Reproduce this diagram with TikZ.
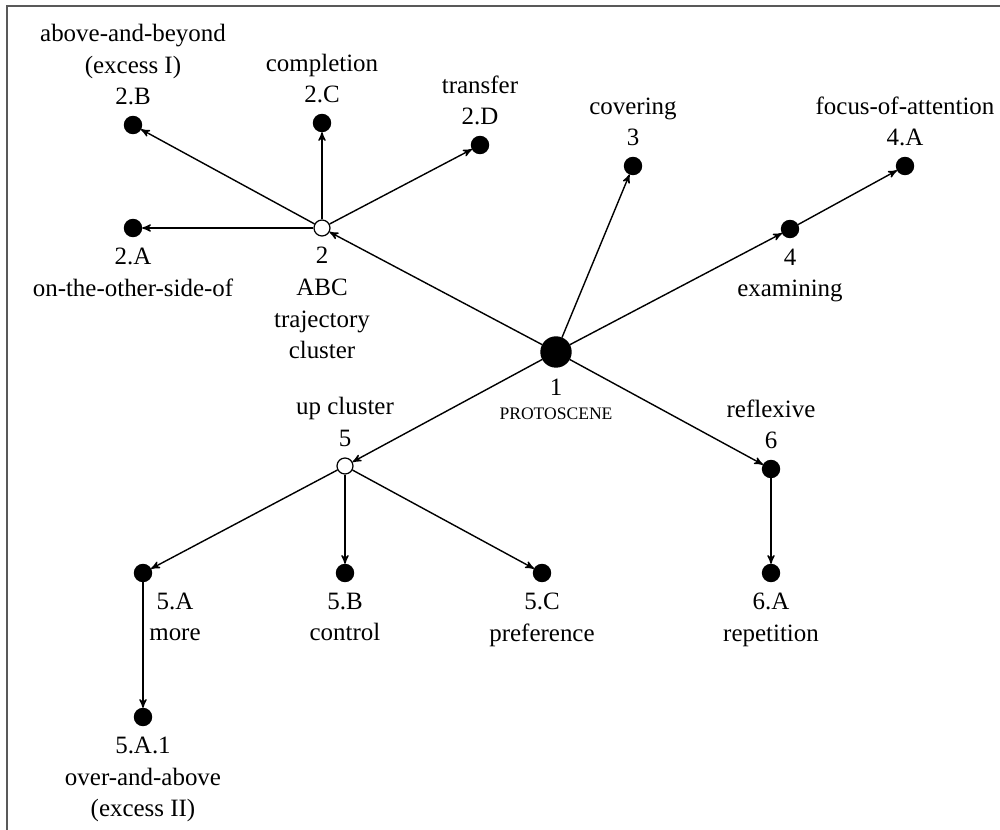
\documentclass[tikz,border=0pt]{standalone}
\usepackage{fontspec}
\setmainfont{Liberation Serif}
\usepackage{tikz}
\usetikzlibrary{arrows,positioning}
\tikzset{
	sensenode/.style = {circle, inner sep=0pt, draw=black},
	sns_n/.style = {sensenode, fill=black, minimum size=0.34cm},% sense, full dot
	sns_o/.style = {sensenode, fill=white, minimum size=0.32cm,
		line width=0.7pt},% cluster, open dot
	sns_p/.style = {sensenode, fill=black, minimum size=0.6cm},% protoscene
	sns_t/.style = {align=center, inner sep=0pt,
		font=\fontsize{14.2}{18}\selectfont}% label text
}
\begin{document}
\begin{tikzpicture}[x=0.02cm, y=-0.02cm, ->, >=stealth', line width=0.8pt]
\useasboundingbox (0,0) rectangle (1000,830);
\draw [-, gray!70!black, line width=1.2pt] (7,830) -- (7,6) -- (1000,6);
% senses
\node [sns_p] (n1) at (556,352) {};
\node [sns_o] (n2) at (322,228) {};
\node [sns_n] (n2A) at (133,228) {};
\node [sns_n] (n2B) at (133,125) {};
\node [sns_n] (n2C) at (322,123) {};
\node [sns_n] (n2D) at (480,145) {};
\node [sns_n] (n3) at (633,166) {};
\node [sns_n] (n4) at (790,229) {};
\node [sns_n] (n4A) at (905,166) {};
\node [sns_o] (n5) at (345,466) {};
\node [sns_n] (n5A) at (143,573) {};
\node [sns_n] (n5B) at (345,573) {};
\node [sns_n] (n5C) at (542,573) {};
\node [sns_n] (n5A1) at (143,717) {};
\node [sns_n] (n6) at (771,469) {};
\node [sns_n] (n6A) at (771,573) {};
% labels
\node [sns_t, below=0.22cm of n1] (t1) {1\\[-4.4pt]{\fontsize{10}{12}\selectfont PROTOSCENE}};
\node [sns_t, below=0.2cm of n2] (t2) {2\\ABC\\trajectory\\cluster};
\node [sns_t, below=0.2cm of n2A] (t2A) {2.A\\on-the-other-side-of};
\node [sns_t, above=0.2cm of n2B] (t2B) {above-and-beyond\\(excess I)\\2.B};
\node [sns_t, above=0.2cm of n2C] (t2C) {completion\\2.C};
\node [sns_t, above=0.2cm of n2D] (t2D) {transfer\\2.D};
\node [sns_t, above=0.2cm of n3] (t3) {covering\\3};
\node [sns_t, below=0.2cm of n4] (t4) {4\\examining};
\node [sns_t, above=0.2cm of n4A] (t4A) {focus-of-attention\\4.A};
\node [sns_t, above=0.2cm of n5] (t5) {up cluster\\5};
\node [sns_t, below=0.2cm of n5A, xshift=0.64cm] (t5A) {5.A\\more};
\node [sns_t, below=0.2cm of n5B] (t5B) {5.B\\control};
\node [sns_t, below=0.2cm of n5C] (t5C) {5.C\\preference};
\node [sns_t, below=0.2cm of n5A1] (t5A1) {5.A.1\\over-and-above\\(excess II)};
\node [sns_t, above=0.2cm of n6] (t6) {reflexive\\6};
\node [sns_t, below=0.2cm of n6A] (t6A) {6.A\\repetition};
% links
\draw (n1) -- (n2);
\draw (n1) -- (n3);
\draw (n1) -- (n4);
\draw (n1) -- (n5);
\draw (n1) -- (n6);
\draw (n2) -- (n2A);
\draw (n2) -- (n2B);
\draw (n2) -- (n2C);
\draw (n2) -- (n2D);
\draw (n4) -- (n4A);
\draw (n5) -- (n5A);
\draw (n5) -- (n5B);
\draw (n5) -- (n5C);
\draw (n5A) -- (n5A1);
\draw (n6) -- (n6A);
\end{tikzpicture}
\end{document}
